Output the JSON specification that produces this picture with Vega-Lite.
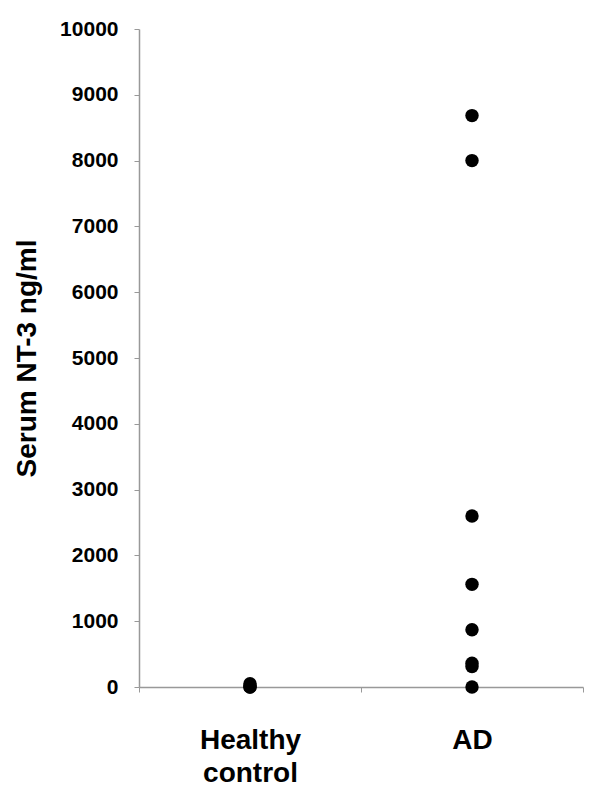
{
  "$schema": "https://vega.github.io/schema/vega-lite/v6.json",
  "autosize": "none",
  "width": 444,
  "height": 658,
  "padding": {"left": 139, "top": 29, "right": 17, "bottom": 116},
  "background": "white",
  "config": {
    "view": {"stroke": null},
    "font": "Liberation Sans"
  },
  "data": {
    "values": [
      {"group": "Healthy control", "value": 0},
      {"group": "Healthy control", "value": 0},
      {"group": "Healthy control", "value": 20},
      {"group": "Healthy control", "value": 50},
      {"group": "AD", "value": 8684},
      {"group": "AD", "value": 8000},
      {"group": "AD", "value": 2600},
      {"group": "AD", "value": 1560},
      {"group": "AD", "value": 870},
      {"group": "AD", "value": 360},
      {"group": "AD", "value": 310},
      {"group": "AD", "value": 0}
    ]
  },
  "mark": {"type": "point", "filled": true, "shape": "circle", "size": 180, "color": "black", "opacity": 1},
  "encoding": {
    "x": {
      "field": "group",
      "type": "nominal",
      "sort": ["Healthy control", "AD"],
      "scale": {"paddingInner": 0, "paddingOuter": 0},
      "axis": {
        "title": null,
        "labelAngle": 0,
        "tickBand": "extent",
        "domainColor": "#999999",
        "domainWidth": 1.5,
        "tickColor": "#999999",
        "tickSize": 5,
        "labelFont": "Liberation Sans",
        "labelFontSize": 28,
        "labelFontWeight": "bold",
        "labelColor": "black",
        "labelPadding": 34,
        "labelLineHeight": 33,
        "labelBaseline": "top",
        "labelExpr": "datum.label == 'Healthy control' ? ['Healthy', 'control'] : datum.label"
      }
    },
    "y": {
      "field": "value",
      "type": "quantitative",
      "scale": {"domain": [0, 10000], "nice": false},
      "axis": {
        "values": [0, 1000, 2000, 3000, 4000, 5000, 6000, 7000, 8000, 9000, 10000],
        "format": "d",
        "grid": false,
        "title": "Serum NT-3 ng/ml",
        "titleFont": "Liberation Sans",
        "titleFontSize": 28,
        "titleFontWeight": "bold",
        "titleColor": "black",
        "titlePadding": 18,
        "labelFont": "Liberation Sans",
        "labelFontSize": 21,
        "labelFontWeight": "bold",
        "labelColor": "black",
        "labelPadding": 16,
        "domainColor": "#999999",
        "domainWidth": 1.5,
        "tickColor": "#999999",
        "tickSize": 5,
        "labelFlush": false
      }
    }
  }
}
